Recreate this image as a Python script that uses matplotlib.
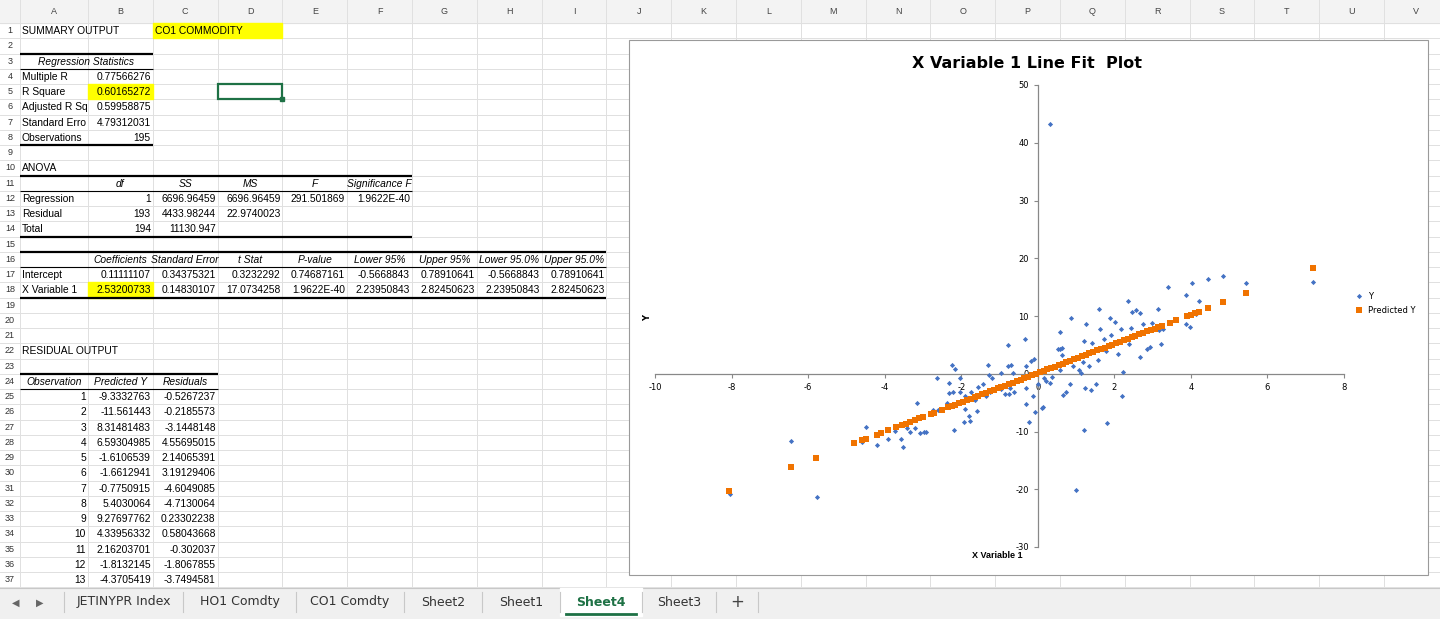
import matplotlib
matplotlib.use("Agg")
import matplotlib.pyplot as plt
from matplotlib.patches import Rectangle
plt.rcParams["axes.unicode_minus"] = False

# ---------------- data ----------------
y_x = [-8.05,-6.45,-5.77,-4.79,-4.59,-4.5,-4.2,-4.11,-3.9,-3.73,-3.57,-3.51,-3.41,-3.33,-3.2,-3.15,-3.07,-2.98,-2.91,
       -2.74,-2.63,-2.61,-2.37,-2.31,-2.31,-2.25,-2.21,-2.16,-2.18,-2.04,-2.02,-1.93,-1.9,-1.9,-1.79,-1.76,-1.74,-1.64,
       -1.6,-1.55,-1.43,-1.36,-1.29,-1.27,-1.2,-1.24,-0.96,-0.96,-0.85,-0.78,-0.77,-0.7,-0.73,-0.75,-0.65,-0.63,-0.33,
       -0.32,-0.32,-0.3,-0.23,-0.17,-0.09,-0.12,-0.07,0.14,0.22,0.0,0.59,
       0.11,0.16,0.31,0.38,0.53,0.59,0.64,0.64,0.59,0.66,0.73,0.84,0.86,0.92,0.99,1.08,1.12,1.18,1.2,1.2,1.24,1.26,1.34,
       1.39,1.42,1.52,1.58,1.59,1.63,1.73,1.79,1.81,1.88,1.92,2.02,2.09,2.18,2.2,2.23,2.37,2.39,2.44,2.47,2.56,2.67,2.67,
       2.75,2.86,2.94,2.99,3.14,3.17,3.22,3.26,3.41,3.87,3.87,3.98,4.03,4.13,4.22,4.45,4.84,5.45,7.19,0.31]
y_y = [-20.9,-11.6,-21.3,-11.85,-11.85,-9.2,-12.3,-10.0,-11.3,-9.9,-11.3,-12.7,-9.4,-10.1,-9.4,-5.0,-10.2,-10.1,-10.0,
       -6.3,-0.7,-6.2,-5.0,-1.6,-3.3,1.45,-3.2,0.9,-9.8,-3.2,-0.8,-8.4,-3.8,-6.1,-7.3,-8.2,-3.2,-4.5,
       -6.5,-2.3,-1.7,-3.8,1.6,-0.3,-0.7,-3.2,0.2,-2.7,-3.5,5.0,1.3,1.45,-2.4,-3.5,0.2,-3.2,6.1,
       -5.3,-2.4,1.3,-8.4,2.2,2.6,-3.8,-6.6,-5.8,-1.3,-1.7,4.3,
       -5.95,-0.75,-1.6,-0.5,4.2,7.3,4.5,3.2,0.7,-3.6,-3.1,-1.7,9.65,1.3,-20.1,0.7,0.1,2.1,-9.8,5.7,-2.5,8.6,1.3,
       -2.8,5.3,-1.7,2.3,11.2,7.7,6.0,4.0,-8.6,9.65,6.7,9.0,3.4,7.7,-3.9,0.3,12.6,5.1,7.9,10.75,11.1,10.5,2.9,
       8.6,4.2,4.6,8.8,11.2,7.5,5.1,7.8,15.0,13.6,8.6,8.1,15.7,10.3,12.6,16.4,16.9,15.7,15.9,43.3]
p_x = [-8.06,-6.45,-5.8,-4.8,-4.6,-4.5,-4.2,-4.1,-3.9,-3.7,-3.55,-3.45,-3.35,-3.2,-3.1,-3.0,-2.8,-2.7,-2.5,-2.35,-2.25,
       -2.15,-2.05,-1.95,-1.85,-1.75,-1.65,-1.55,-1.45,-1.35,-1.25,-1.15,-1.05,-0.95,-0.85,-0.75,-0.65,-0.55,-0.45,-0.35,
       -0.25,-0.15,-0.05,0.05,0.15,0.25,0.35,0.45,0.55,0.65,0.75,0.85,0.95,1.05,1.15,1.25,1.35,1.45,1.55,1.65,1.75,1.85,
       1.95,2.05,2.15,2.25,2.35,2.45,2.55,2.65,2.75,2.85,2.95,3.05,3.15,3.25,3.45,3.6,3.9,4.0,4.1,4.2,4.45,4.85,5.45,7.2]
p_y = [-20.30,-16.22,-14.57,-12.04,-11.54,-11.28,-10.52,-10.27,-9.76,-9.26,-8.88,-8.62,-8.37,-7.99,-7.74,-7.49,-6.98,
       -6.73,-6.22,-5.84,-5.59,-5.33,-5.08,-4.83,-4.57,-4.32,-4.07,-3.81,-3.56,-3.31,-3.05,-2.80,-2.55,-2.29,-2.04,-1.79,
       -1.53,-1.28,-1.03,-0.78,-0.52,-0.27,-0.02,0.24,0.49,0.74,1.00,1.25,1.50,1.76,2.01,2.26,2.52,2.77,3.02,3.28,3.53,
       3.78,4.04,4.29,4.54,4.80,5.05,5.30,5.55,5.81,6.06,6.31,6.57,6.82,7.07,7.33,7.58,7.83,8.09,8.34,8.85,9.23,9.99,
       10.24,10.49,10.74,11.38,12.39,13.91,18.34]
x_ticks = [-10,-8,-6,-4,-2,0,2,4,6,8]
y_ticks = [-30,-20,-10,0,10,20,30,40,50]

col_letters = list("ABCDEFGHIJKLMNOPQRSTUV")
cells = [
 (1,0,"SUMMARY OUTPUT","l",False),(1,2,"CO1 COMMODITY","l",False),
 (3,0,"Regression Statistics","c2",True),
 (4,0,"Multiple R","l",False),(4,1,"0.77566276","r",False),
 (5,0,"R Square","l",False),(5,1,"0.60165272","r",False),
 (6,0,"Adjusted R Sq","l",False),(6,1,"0.59958875","r",False),
 (7,0,"Standard Erro","l",False),(7,1,"4.79312031","r",False),
 (8,0,"Observations","l",False),(8,1,"195","r",False),
 (10,0,"ANOVA","l",False),
 (11,1,"df","c",True),(11,2,"SS","c",True),(11,3,"MS","c",True),(11,4,"F","c",True),(11,5,"Significance F","c",True),
 (12,0,"Regression","l",False),(12,1,"1","r",False),(12,2,"6696.96459","r",False),(12,3,"6696.96459","r",False),
 (12,4,"291.501869","r",False),(12,5,"1.9622E-40","r",False),
 (13,0,"Residual","l",False),(13,1,"193","r",False),(13,2,"4433.98244","r",False),(13,3,"22.9740023","r",False),
 (14,0,"Total","l",False),(14,1,"194","r",False),(14,2,"11130.947","r",False),
 (16,1,"Coefficients","c",True),(16,2,"Standard Error","c",True),(16,3,"t Stat","c",True),(16,4,"P-value","c",True),
 (16,5,"Lower 95%","c",True),(16,6,"Upper 95%","c",True),(16,7,"Lower 95.0%","c",True),(16,8,"Upper 95.0%","c",True),
 (17,0,"Intercept","l",False),(17,1,"0.11111107","r",False),(17,2,"0.34375321","r",False),(17,3,"0.3232292","r",False),
 (17,4,"0.74687161","r",False),(17,5,"-0.5668843","r",False),(17,6,"0.78910641","r",False),(17,7,"-0.5668843","r",False),
 (17,8,"0.78910641","r",False),
 (18,0,"X Variable 1","l",False),(18,1,"2.53200733","r",False),(18,2,"0.14830107","r",False),(18,3,"17.0734258","r",False),
 (18,4,"1.9622E-40","r",False),(18,5,"2.23950843","r",False),(18,6,"2.82450623","r",False),(18,7,"2.23950843","r",False),
 (18,8,"2.82450623","r",False),
 (22,0,"RESIDUAL OUTPUT","l",False),
 (24,0,"Observation","c",True),(24,1,"Predicted Y","c",True),(24,2,"Residuals","c",True),
]
res_obs = [1,2,3,4,5,6,7,8,9,10,11,12,13]
res_pred = ["-9.3332763","-11.561443","8.31481483","6.59304985","-1.6106539","-1.6612941","-0.7750915","5.4030064",
            "9.27697762","4.33956332","2.16203701","-1.8132145","-4.3705419"]
res_resid = ["-0.5267237","-0.2185573","-3.1448148","4.55695015","2.14065391","3.19129406","-4.6049085","-4.7130064",
             "0.23302238","0.58043668","-0.302037","-1.8067855","-3.7494581"]
tabs = ["JETINYPR Index","HO1 Comdty","CO1 Comdty","Sheet2","Sheet1","Sheet4","Sheet3"]

# ---------------- layout ----------------
W, H = 1440, 619
fig = plt.figure(figsize=(14.4, 6.19), dpi=100)
bg = fig.add_axes([0, 0, 1, 1])
bg.set_xlim(0, W); bg.set_ylim(H, 0); bg.axis("off")
FONT = ["Liberation Sans Narrow", "Liberation Sans", "DejaVu Sans"]
FS = 7.4
edges = [0, 20, 88] + [88 + 64.8 * k for k in range(1, 22)]
def row_top(r): return 23 + 15.25 * (r - 1)
RH = 15.25

bg.add_patch(Rectangle((0, 0), W, 23, color="#f3f3f3", zorder=0))
for i, L in enumerate(col_letters):
    xc = (edges[i+1] + edges[i+2]) / 2
    bg.text(xc, 12, L, ha="center", va="center", fontsize=6.5, family=FONT, color="#444")
for e in edges[1:]:
    bg.plot([e, e], [0, 587], color="#e0e0e0", lw=0.7, zorder=1)
for r in range(1, 38):
    y = row_top(r)
    bg.plot([0, W], [y, y], color="#e0e0e0", lw=0.7, zorder=1)
    bg.text(10, y + RH/2, str(r), ha="center", va="center", fontsize=6.5, family=FONT, color="#333")
bg.plot([0, W], [587, 587], color="#e0e0e0", lw=0.7)
def cell_rect(r, c, ncol=1, **kw):
    x0 = edges[c+1]; x1 = edges[c+1+ncol]
    bg.add_patch(Rectangle((x0, row_top(r)), x1 - x0, RH, **kw))
cell_rect(1, 2, 2, color="#ffff00", zorder=2)
cell_rect(5, 1, 1, color="#ffff00", zorder=2)
cell_rect(18, 1, 1, color="#ffff00", zorder=2)
cell_rect(5, 3, 1, fill=False, ec="#1e7145", lw=1.6, zorder=6)
bg.add_patch(Rectangle((edges[5]-2, row_top(6)-2), 4, 4, color="#1e7145", zorder=7))

for (r, c, t, al, it) in cells:
    y = row_top(r) + RH/2 + 0.5
    x0 = edges[c+1]; x1 = edges[c+2]
    style = "italic" if it else "normal"
    if al == "l":
        bg.text(x0 + 2, y, t, ha="left", va="center", fontsize=FS, family=FONT, style=style, zorder=5)
    elif al == "r":
        bg.text(x1 - 2, y, t, ha="right", va="center", fontsize=FS, family=FONT, style=style, zorder=5)
    elif al == "c2":
        bg.text((x0 + edges[c+3]) / 2, y, t, ha="center", va="center", fontsize=FS, family=FONT, style=style, zorder=5)
    else:
        bg.text((x0 + x1) / 2, y, t, ha="center", va="center", fontsize=FS, family=FONT, style=style, zorder=5)
for i in range(len(res_obs)):
    r = 25 + i
    y = row_top(r) + RH/2 + 0.5
    bg.text(edges[2] - 2, y, str(res_obs[i]), ha="right", va="center", fontsize=FS, family=FONT)
    bg.text(edges[3] - 2, y, res_pred[i], ha="right", va="center", fontsize=FS, family=FONT)
    bg.text(edges[4] - 2, y, res_resid[i], ha="right", va="center", fontsize=FS, family=FONT)

def hline(r_edge, c0, c1, lw):
    bg.plot([edges[c0+1], edges[c1+2]], [row_top(r_edge), row_top(r_edge)], color="black", lw=lw, zorder=4,
            solid_capstyle="butt")
hline(3, 0, 1, 1.6); hline(4, 0, 1, 0.8); hline(9, 0, 1, 1.6)
hline(11, 0, 5, 1.6); hline(12, 0, 5, 0.8); hline(15, 0, 5, 1.6)
hline(16, 0, 8, 1.6); hline(17, 0, 8, 0.8); hline(19, 0, 8, 1.6)
hline(24, 0, 2, 1.6); hline(25, 0, 2, 0.8)

bg.add_patch(Rectangle((0, 588), W, 31, color="#f0f0f0", zorder=2))
bg.plot([0, W], [588, 588], color="#c8c8c8", lw=0.8, zorder=3)
bg.text(16, 603, "◀", fontsize=7, ha="center", va="center", color="#666", zorder=4)
bg.text(40, 603, "▶", fontsize=7, ha="center", va="center", color="#666", zorder=4)
tab_edges = [64, 183, 296, 404, 482, 560, 642, 716, 758]
for i, t in enumerate(tabs):
    xc = (tab_edges[i] + tab_edges[i+1]) / 2
    if t == "Sheet4":
        bg.add_patch(Rectangle((tab_edges[i], 588), tab_edges[i+1]-tab_edges[i], 28, color="white", zorder=3))
        bg.plot([tab_edges[i]+6, tab_edges[i+1]-6], [614, 614], color="#1e7145", lw=2, zorder=4)
        bg.text(xc, 602, t, ha="center", va="center", fontsize=9, color="#1e7145", weight="bold", zorder=4)
    else:
        bg.text(xc, 602, t, ha="center", va="center", fontsize=9, color="#333", zorder=4)
for e in tab_edges:
    bg.plot([e, e], [592, 612], color="#c8c8c8", lw=0.8, zorder=4)
bg.text(737, 602, "+", ha="center", va="center", fontsize=12, color="#444", zorder=4)

bg.add_patch(Rectangle((629, 40), 799, 535, fc="white", ec="#9a9a9a", lw=0.8, zorder=8))
bg.text(1027, 63, "X Variable 1 Line Fit  Plot", ha="center", va="center", fontsize=11.5, weight="bold",
        family=["Liberation Sans Narrow", "DejaVu Sans"], zorder=9)
bg.text(648, 318, "Y", ha="center", va="center", fontsize=6, weight="bold", rotation=90, zorder=9)
bg.text(997, 555, "X Variable 1", ha="center", va="center", fontsize=6.5, weight="bold", family=FONT, zorder=9)

ax = fig.add_axes([655/W, 1 - 547/H, (1344-655)/W, (547-85)/H], zorder=10)
ax.patch.set_alpha(0)
ax.set_xlim(-10, 8); ax.set_ylim(-30, 50)
ax.spines["left"].set_position(("data", 0))
ax.spines["bottom"].set_position(("data", 0))
for s in ["top", "right"]:
    ax.spines[s].set_visible(False)
for s in ["left", "bottom"]:
    ax.spines[s].set_color("#888888"); ax.spines[s].set_linewidth(0.9)
ax.set_xticks(x_ticks); ax.set_yticks(y_ticks)
ax.tick_params(labelsize=6, length=3, color="#888888", direction="out")
ax.scatter(y_x, y_y, marker="D", s=7, color="#4472c4", lw=0, zorder=3, label="Y")
ax.scatter(p_x, p_y, marker="s", s=18, color="#f07300", lw=0, zorder=4, label="Predicted Y")
ax.legend(loc="upper left", bbox_to_anchor=(1.005, 0.56), frameon=False, fontsize=6, handletextpad=0.1,
          borderaxespad=0, labelspacing=0.6)

fig.savefig("out.png", dpi=100)
